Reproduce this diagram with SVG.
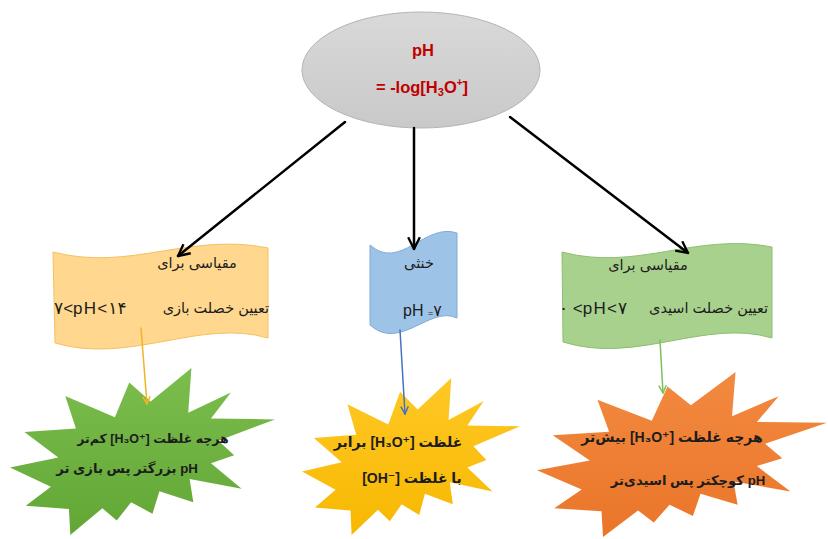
<svg xmlns="http://www.w3.org/2000/svg" width="828" height="539" viewBox="0 0 828 539">
<style>
.fa{font-family:"Liberation Sans","DejaVu Sans",sans-serif;font-size:14.5px;fill:#1c1c1c}
.fm{font-family:"Liberation Sans","DejaVu Sans",sans-serif;font-size:17px;letter-spacing:1.2px;fill:#1c1c1c}
.st{font-weight:bold;font-size:14px}
.red{font-family:"Liberation Sans","DejaVu Sans",sans-serif;font-weight:bold;font-size:16.5px;fill:#C00000}
.conn{fill:none;stroke-linecap:round}
</style>
<defs>
<path id="seal" d="M14790,0 L14525,5777 L18007,3172 L16380,6532 L21600,6645 L16985,9402 L18270,11290 L16380,12310 L18877,15632 L14640,14350 L14942,17370 L12180,15935 L11612,18842 L9872,17370 L8700,19712 L7527,18125 L4917,21600 L4805,18240 L1285,17825 L3330,15370 L0,12877 L3935,11592 L1172,8270 L5372,7817 L4502,3625 L8550,6382 L9722,1887 L11462,4342 Z"/>
<linearGradient id="gEl" x1="0" y1="0" x2="0" y2="1"><stop offset="0" stop-color="#D9D9D9"/><stop offset="1" stop-color="#C9C9C9"/></linearGradient>
<linearGradient id="gGreen" x1="0" y1="0" x2="0" y2="1"><stop offset="0" stop-color="#7BBE4E"/><stop offset="1" stop-color="#62A635"/></linearGradient>
<linearGradient id="gYellow" x1="0" y1="0" x2="0" y2="1"><stop offset="0" stop-color="#FFC826"/><stop offset="1" stop-color="#F7B800"/></linearGradient>
<linearGradient id="gOrange" x1="0" y1="0" x2="0" y2="1"><stop offset="0" stop-color="#F28A40"/><stop offset="1" stop-color="#EA7529"/></linearGradient>
<marker id="mBlack" viewBox="0 0 12 12" refX="11" refY="6" markerWidth="14" markerHeight="14" markerUnits="userSpaceOnUse" orient="auto"><path d="M1,1 L11,6 L1,11" fill="none" stroke="#000" stroke-width="2"/></marker>
<marker id="mGold" viewBox="0 0 12 12" refX="11" refY="6" markerWidth="9" markerHeight="9" markerUnits="userSpaceOnUse" orient="auto"><path d="M1,1 L11,6 L1,11" fill="none" stroke="#F0B323" stroke-width="2"/></marker>
<marker id="mBlue" viewBox="0 0 12 12" refX="11" refY="6" markerWidth="9" markerHeight="9" markerUnits="userSpaceOnUse" orient="auto"><path d="M1,1 L11,6 L1,11" fill="none" stroke="#4472C4" stroke-width="2"/></marker>
<marker id="mGreen" viewBox="0 0 12 12" refX="11" refY="6" markerWidth="9" markerHeight="9" markerUnits="userSpaceOnUse" orient="auto"><path d="M1,1 L11,6 L1,11" fill="none" stroke="#7CC05A" stroke-width="2"/></marker>
</defs>

<g id="root-ph">
<ellipse cx="421" cy="70" rx="119" ry="58" fill="url(#gEl)" stroke="#B4B4B4" stroke-width="1"/>
<text class="red" x="423" y="56" text-anchor="middle">pH</text>
<text class="red" x="422" y="93" text-anchor="middle">= -log[H<tspan font-size="11" dy="3">3</tspan><tspan dy="-3">O</tspan><tspan font-size="10" dy="-7">+</tspan><tspan dy="7">]</tspan></text>
</g>

<g id="box-basic">
<path d="M53,252 C130,272 190,232 268,248 L268,338 C200,318 130,365 55,343 Z" fill="#FFD78E" stroke="#F3C160" stroke-width="1"/>
<text class="fa" x="197" y="268" text-anchor="middle" direction="rtl">مقیاسی  برای</text>
<text class="fa" x="269" y="313" text-anchor="end">تعیین خصلت بازی</text>
<text class="fm" x="54" y="314" direction="ltr" unicode-bidi="bidi-override">۷&lt;pH&lt;۱۴</text>
</g>

<g id="box-neutral">
<path d="M370,245 C400,272 425,222 457,233 L457,318 C430,305 400,352 370,325 Z" fill="#9DC3E6" stroke="#80AADA" stroke-width="1"/>
<text class="fa" x="419" y="268" text-anchor="middle" direction="rtl">خنثی</text>
<text class="fm" x="403" y="316" direction="ltr" unicode-bidi="bidi-override" style="font-size:16px;letter-spacing:0">pH <tspan style="font-size:9px">=</tspan>۷</text>
</g>

<g id="box-acid">
<path d="M562,252 C637,272 696,232 772,247 L772,338 C705,318 637,365 563,342 Z" fill="#A9D18E" stroke="#8FBE70" stroke-width="1"/>
<text class="fa" x="648" y="270" text-anchor="middle" direction="rtl">مقیاسی  برای</text>
<text class="fa" x="768" y="313" text-anchor="end">تعیین خصلت اسیدی</text>
<text class="fm" x="559" y="314" direction="ltr" unicode-bidi="bidi-override">۰ &lt;pH&lt;۷</text>
</g>

<g id="star-basic">
<use href="#seal" transform="translate(10,368) scale(0.012269,0.0077315)" fill="url(#gGreen)"/>
<text class="fa st" x="153" y="443" text-anchor="middle" direction="rtl" style="font-size:12.5px">هرچه غلظت &#x2066;[H₃O⁺]&#x2069; کم&#x200C;تر</text>
<text class="fa st" x="127" y="473" text-anchor="middle" direction="rtl" style="font-size:13.3px">pH بزرگتر پس بازی تر</text>
</g>

<g id="star-neutral">
<use href="#seal" transform="translate(302,378) scale(0.0100926,0.0072685)" fill="url(#gYellow)"/>
<text class="fa st" x="398" y="447" text-anchor="middle" direction="rtl">غلظت  &#x2066;[H₃O⁺]&#x2069; برابر</text>
<text class="fa st" x="412" y="483" text-anchor="middle" direction="rtl">با غلظت  &#x2066;[OH⁻]&#x2069;</text>
</g>

<g id="star-acid">
<use href="#seal" transform="translate(537,372) scale(0.0134259,0.0076389)" fill="url(#gOrange)"/>
<text class="fa st" x="672" y="442" text-anchor="middle" direction="rtl">هرچه غلظت &#x2066;[H₃O⁺]&#x2069; بیش&#x200C;تر</text>
<text class="fa st" x="688" y="485" text-anchor="middle" direction="rtl" style="font-size:13.2px">pH کوچکتر پس اسیدی&#x200C;تر</text>
</g>

<g id="connectors">
<line class="conn" x1="345" y1="122" x2="178" y2="256" stroke="#000" stroke-width="2.5" marker-end="url(#mBlack)"/>
<line class="conn" x1="414" y1="128" x2="414" y2="249" stroke="#000" stroke-width="2.5" marker-end="url(#mBlack)"/>
<line class="conn" x1="510" y1="117" x2="688" y2="253" stroke="#000" stroke-width="2.5" marker-end="url(#mBlack)"/>
<line class="conn" x1="141" y1="328" x2="147" y2="404" stroke="#F0B323" stroke-width="1.5" marker-end="url(#mGold)"/>
<line class="conn" x1="400" y1="330" x2="405" y2="414" stroke="#4472C4" stroke-width="1.5" marker-end="url(#mBlue)"/>
<line class="conn" x1="660" y1="340" x2="663" y2="393" stroke="#7CC05A" stroke-width="1.5" marker-end="url(#mGreen)"/>
</g>
</svg>
